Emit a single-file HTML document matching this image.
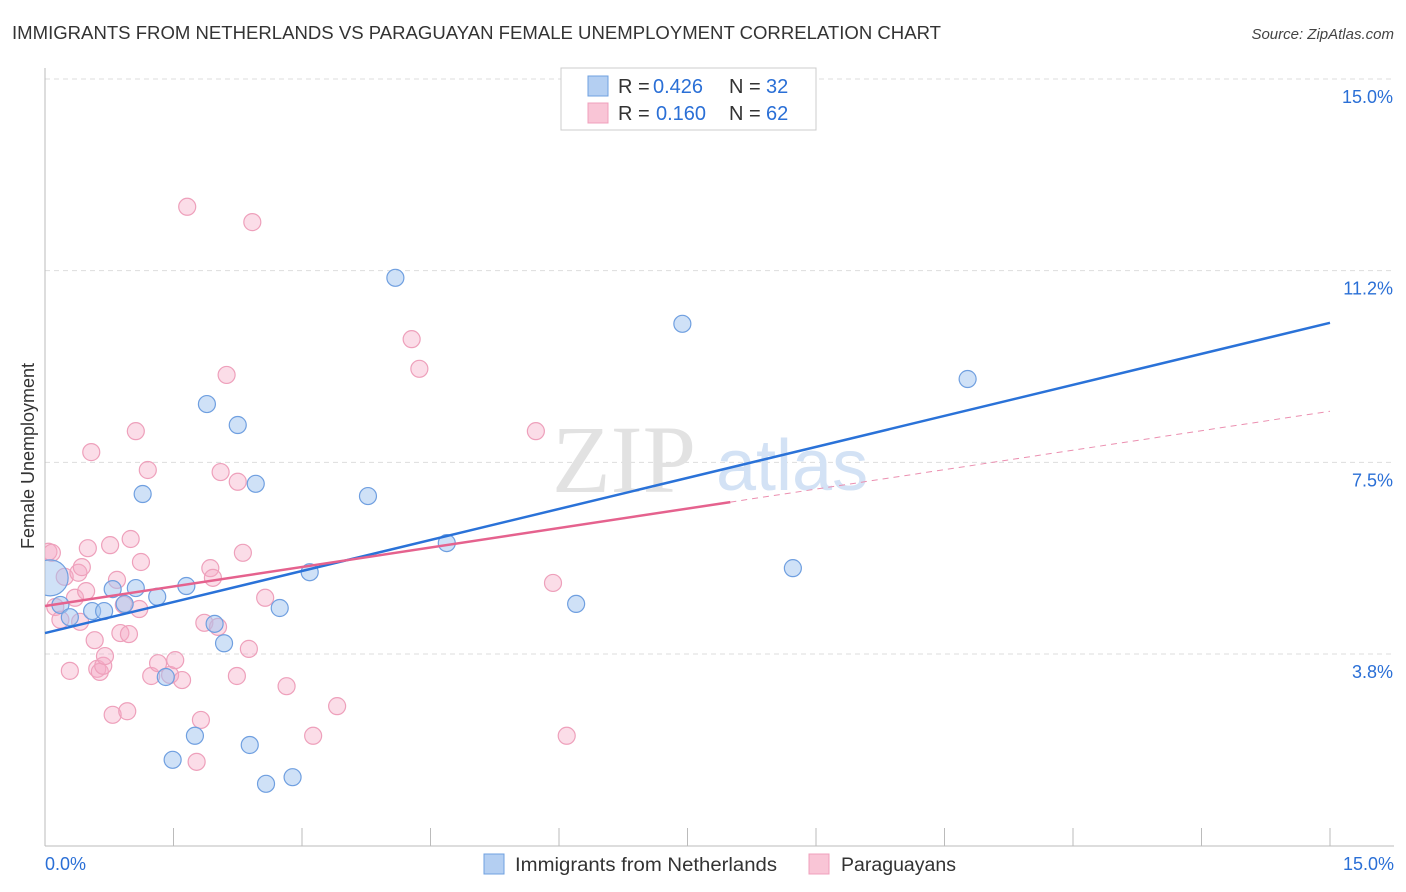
<!DOCTYPE html>
<html><head><meta charset="utf-8"><style>
body{margin:0;background:#fff;font-family:"Liberation Sans",sans-serif;}
</style></head><body>
<svg id="chart" width="1406" height="892" xmlns="http://www.w3.org/2000/svg" style="display:block">
<defs><clipPath id="plot"><rect x="45" y="60" width="1350" height="786"/></clipPath></defs>
<text x="12" y="39" font-size="18" fill="#333" textLength="929" lengthAdjust="spacingAndGlyphs">IMMIGRANTS FROM NETHERLANDS VS PARAGUAYAN FEMALE UNEMPLOYMENT CORRELATION CHART</text>
<text x="1394" y="39" font-size="15" fill="#444" text-anchor="end" font-style="italic">Source: ZipAtlas.com</text>
<text transform="translate(34,456) rotate(-90)" font-size="18" fill="#333" text-anchor="middle">Female Unemployment</text>
<g id="grid"></g>
<text x="552" y="492" font-size="96" fill="#e2e2e2" font-family="Liberation Serif,serif">ZIP</text>
<text x="716" y="490" font-size="72" fill="#d3e2f5">atlas</text>
<g id="marks" clip-path="url(#plot)"></g>
<g id="lines"></g>
<rect x="561" y="68" width="255" height="62" fill="#fff" stroke="#ccc"/>
<rect x="588" y="76" width="20" height="20" fill="#b4cff2" stroke="#6fa0e0"/>
<rect x="588" y="103" width="20" height="20" fill="#f9c5d6" stroke="#f0a0bc"/>
<text x="618" y="93" font-size="20" fill="#333">R = <tspan x="653" fill="#2a6fd6">0.426</tspan><tspan x="729">N = </tspan><tspan x="766" fill="#2a6fd6">32</tspan></text>
<text x="618" y="120" font-size="20" fill="#333">R = <tspan x="656" fill="#2a6fd6">0.160</tspan><tspan x="729">N = </tspan><tspan x="766" fill="#2a6fd6">62</tspan></text>
<text x="45" y="870" font-size="18" fill="#2a6fd6">0.0%</text>
<text x="1394" y="870" font-size="18" fill="#2a6fd6" text-anchor="end">15.0%</text>
<rect x="484" y="854" width="20" height="20" fill="#b4cff2" stroke="#6fa0e0"/>
<text x="515" y="871" font-size="19" fill="#333" textLength="262" lengthAdjust="spacingAndGlyphs">Immigrants from Netherlands</text>
<rect x="809" y="854" width="20" height="20" fill="#f9c5d6" stroke="#f0a0bc"/>
<text x="841" y="871" font-size="19" fill="#333" textLength="115" lengthAdjust="spacingAndGlyphs">Paraguayans</text>
</svg>
<script>
const yTicks=[3.75,7.5,11.25,15];
const yTickLabels=["3.8%","7.5%","11.2%","15.0%"];
const xTicks=[0,1.5,3,4.5,6,7.5,9,10.5,12,13.5,15];
const blueX=[0.06,0.18,0.29,0.55,0.69,0.79,0.93,1.06,1.14,1.31,1.49,1.41,1.65,1.75,1.89,1.98,2.09,2.25,2.39,2.46,2.58,2.74,2.89,3.09,3.77,4.09,4.69,6.2,7.44,8.73,10.77];
const blueY=[5.24,4.71,4.47,4.59,4.59,5.02,4.73,5.04,6.88,4.87,1.68,3.30,5.08,2.15,8.64,4.34,3.96,8.23,1.97,7.08,1.21,4.65,1.34,5.35,6.84,11.11,5.92,4.73,10.21,5.43,9.13];
const pinkX=[0.04,0.08,0.12,0.18,0.23,0.29,0.35,0.39,0.41,0.43,0.48,0.50,0.54,0.58,0.61,0.64,0.68,0.70,0.76,0.79,0.84,0.88,0.92,0.96,0.98,1.00,1.06,1.10,1.12,1.20,1.24,1.32,1.46,1.52,1.60,1.66,1.77,1.82,1.86,1.93,1.96,2.02,2.05,2.12,2.24,2.25,2.31,2.38,2.42,2.57,2.82,3.13,3.41,4.28,4.37,5.73,5.93,6.09];
const pinkY=[5.75,5.73,4.67,4.42,5.26,3.42,4.85,5.34,4.38,5.45,4.98,5.82,7.70,4.02,3.46,3.40,3.52,3.71,5.88,2.56,5.20,4.16,4.71,2.63,4.14,6.00,8.11,4.63,5.55,7.35,3.32,3.57,3.34,3.63,3.24,12.50,1.64,2.46,4.36,5.43,5.24,4.28,7.31,9.21,3.32,7.12,5.73,3.85,12.20,4.85,3.12,2.15,2.73,9.91,9.33,8.11,5.14,2.15];
const blueTrend=[4.16,10.23];
const pinkTrend=[4.69,8.50];
const pinkSolidEnd=8.0;
const NS="http://www.w3.org/2000/svg";
const xs=v=>45+v*(1285/15);
const ys=v=>654-(v-3.75)*(575/11.25);
function mk(tag,attrs,parent){const e=document.createElementNS(NS,tag);for(const k in attrs)e.setAttribute(k,attrs[k]);parent.appendChild(e);return e;}
const grid=document.getElementById('grid'),marks=document.getElementById('marks'),lines=document.getElementById('lines');
yTicks.forEach((t,i)=>{
  const l=mk('line',{x1:45,x2:1394,y1:ys(t),y2:ys(t),stroke:'#ddd','stroke-dasharray':'5,4'},grid);
  
  
  const tx=mk('text',{x:1393,y:ys(t)+24,'font-size':18,fill:'#2a6fd6','text-anchor':'end'},grid);
  tx.textContent=yTickLabels[i];
  
  
});
const ax=mk('line',{x1:45,x2:1394,y1:846,y2:846,stroke:'#bbb'},grid);


const ay=mk('line',{x1:45,x2:45,y1:68,y2:846,stroke:'#bbb'},grid);


xTicks.forEach(t=>{
  const l=mk('line',{x1:xs(t),x2:xs(t),y1:828,y2:846,stroke:'#bbb'},grid);
  
  
});
pinkX.forEach((x,i)=>{
  const c=mk('circle',{cx:xs(x),cy:ys(pinkY[i]),r:8.5,fill:'rgba(246,170,198,0.4)',stroke:'#eea0bb','stroke-width':1.2},marks);
  
  
});
blueX.forEach((x,i)=>{
  const c=mk('circle',{cx:xs(x),cy:ys(blueY[i]),r:i===0?18:8.5,fill:'rgba(160,196,240,0.5)',stroke:'#6f9fe0','stroke-width':1.2},marks);
  
  
});
const pAt=x=>pinkTrend[0]+(pinkTrend[1]-pinkTrend[0])*x/15;
const bl=mk('line',{x1:xs(0),y1:ys(blueTrend[0]),x2:xs(15),y2:ys(blueTrend[1]),stroke:'#2a72d8','stroke-width':2.5},lines);


const pl=mk('line',{x1:xs(0),y1:ys(pAt(0)),x2:xs(pinkSolidEnd),y2:ys(pAt(pinkSolidEnd)),stroke:'#e5628e','stroke-width':2.5},lines);


const pd=mk('line',{x1:xs(pinkSolidEnd),y1:ys(pAt(pinkSolidEnd)),x2:xs(15),y2:ys(pAt(15)),stroke:'#eb8fb0','stroke-width':1,'stroke-dasharray':'6,5'},lines);


</script>
</body></html>
